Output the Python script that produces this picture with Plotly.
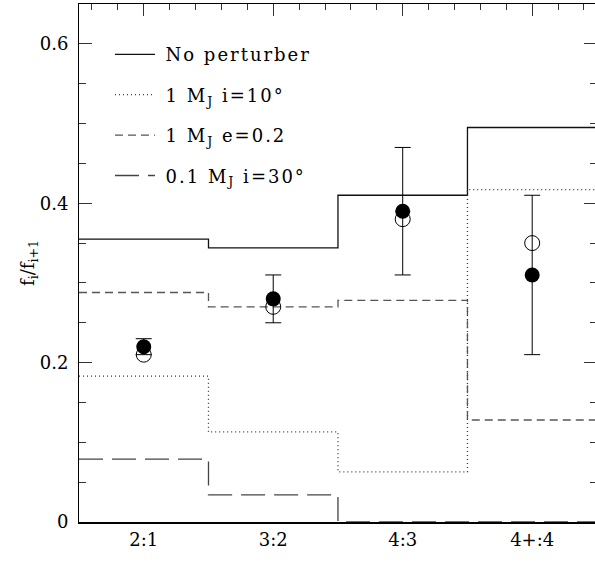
import plotly.graph_objects as go

# ---- data ----
categories = ["2:1", "3:2", "4:3", "4+:4"]
no_perturber = [0.355, 0.344, 0.410, 0.495]
mj1_i10 = [0.183, 0.113, 0.063, 0.417]
mj1_e02 = [0.288, 0.270, 0.278, 0.128]
mj01_i30 = [0.079, 0.034, 0.0, 0.0]
obs_filled = [0.22, 0.28, 0.39, 0.31]
obs_err = [0.01, 0.03, 0.08, 0.10]
obs_open = [0.21, 0.27, 0.38, 0.35]
y_ticks = [0, 0.2, 0.4, 0.6]
names = ["No perturber", "1 M<sub>J</sub> i=10°", "1 M<sub>J</sub> e=0.2", "0.1 M<sub>J</sub> i=30°"]

FONT = "DejaVu Serif"
pos = [i + 1 for i in range(len(categories))]
edges = [p - 0.5 for p in pos] + [pos[-1] + 0.5]


def step_y(vals):
    return list(vals) + [vals[-1]]


styles = [
    dict(color="#111111", width=1.3, dash="solid"),
    dict(color="#333333", width=1.3, dash="1px,3px"),
    dict(color="#555555", width=1.3, dash="8px,5px"),
    dict(color="#444444", width=1.3, dash="24px,9px"),
]

fig = go.Figure()
for i, (vals, name, st) in enumerate(zip([no_perturber, mj1_i10, mj1_e02, mj01_i30], names, styles)):
    fig.add_trace(go.Scatter(
        x=edges, y=step_y(vals), mode="lines", line_shape="hv",
        line=st, legendgroup=f"g{i}",
        name=f'<span style="letter-spacing:2px">\u2009{name}</span>',
    ))

fig.add_trace(go.Scatter(
    x=pos, y=obs_open, mode="markers", showlegend=False,
    marker=dict(symbol="circle-open", size=15, color="black", line=dict(width=1, color="black")),
))
fig.add_trace(go.Scatter(
    x=pos, y=obs_filled, mode="markers", showlegend=False,
    marker=dict(symbol="circle", size=15, color="black"),
    error_y=dict(type="data", array=obs_err, visible=True, color="black", thickness=1, width=8),
))
# empty trace to host top/right tick axes
fig.add_trace(go.Scatter(x=[], y=[], xaxis="x2", yaxis="y2", showlegend=False, hoverinfo="skip"))

xr = [0.5, 4.485]
yr = [0, 0.65]
fig.update_layout(
    width=595, height=563,
    margin=dict(l=79, r=0, t=4, b=41),
    paper_bgcolor="white", plot_bgcolor="white",
    font=dict(family=FONT, size=18, color="black"),
    showlegend=True,
    legend=dict(
        x=0.06, y=0.938, xanchor="left", yanchor="top",
        bgcolor="rgba(0,0,0,0)", borderwidth=0,
        font=dict(family=FONT, size=18, color="black"),
        tracegroupgap=14, itemwidth=40, traceorder="grouped",
    ),
    xaxis=dict(
        range=xr, tickmode="array", tickvals=pos, ticktext=categories,
        ticks="", showline=True, linewidth=2, linecolor="black", layer="above traces",
        showgrid=False, zeroline=False, tickfont=dict(family=FONT, size=18),
    ),
    xaxis2=dict(
        range=xr, overlaying="x", side="top", anchor="y",
        ticks="inside", ticklen=12, tickcolor="#333", tickwidth=1,
        tickmode="array", tickvals=pos,
        minor=dict(ticks="inside", ticklen=6, dtick=0.2, tick0=0, tickcolor="#333"),
        showticklabels=False, showline=True, linewidth=1, linecolor="black",
        showgrid=False, zeroline=False,
    ),
    yaxis=dict(
        range=yr, tickmode="array", tickvals=y_ticks,
        ticktext=[("0" if v == 0 else f"{v:.1f}") for v in y_ticks],
        ticks="inside", ticklen=13, tickcolor="#333", tickwidth=1,
        minor=dict(ticks="inside", ticklen=7, dtick=0.05, tick0=0, tickcolor="#333"),
        showline=True, linewidth=1, linecolor="black", layer="above traces",
        showgrid=False, zeroline=False, ticklabelstandoff=6,
        title=dict(text="f<sub>i</sub>/f<sub>i+1</sub>", standoff=0, font=dict(family=FONT, size=18)),
        tickfont=dict(family=FONT, size=18),
    ),
    yaxis2=dict(
        range=yr, overlaying="y", side="right", anchor="x",
        ticks="inside", ticklen=11, tickcolor="#333", tickwidth=1,
        tickmode="array", tickvals=y_ticks,
        minor=dict(ticks="inside", ticklen=5, dtick=0.05, tick0=0, tickcolor="#333"),
        showticklabels=False, showline=False,
        showgrid=False, zeroline=False,
    ),
)

fig.write_html("out.html")
